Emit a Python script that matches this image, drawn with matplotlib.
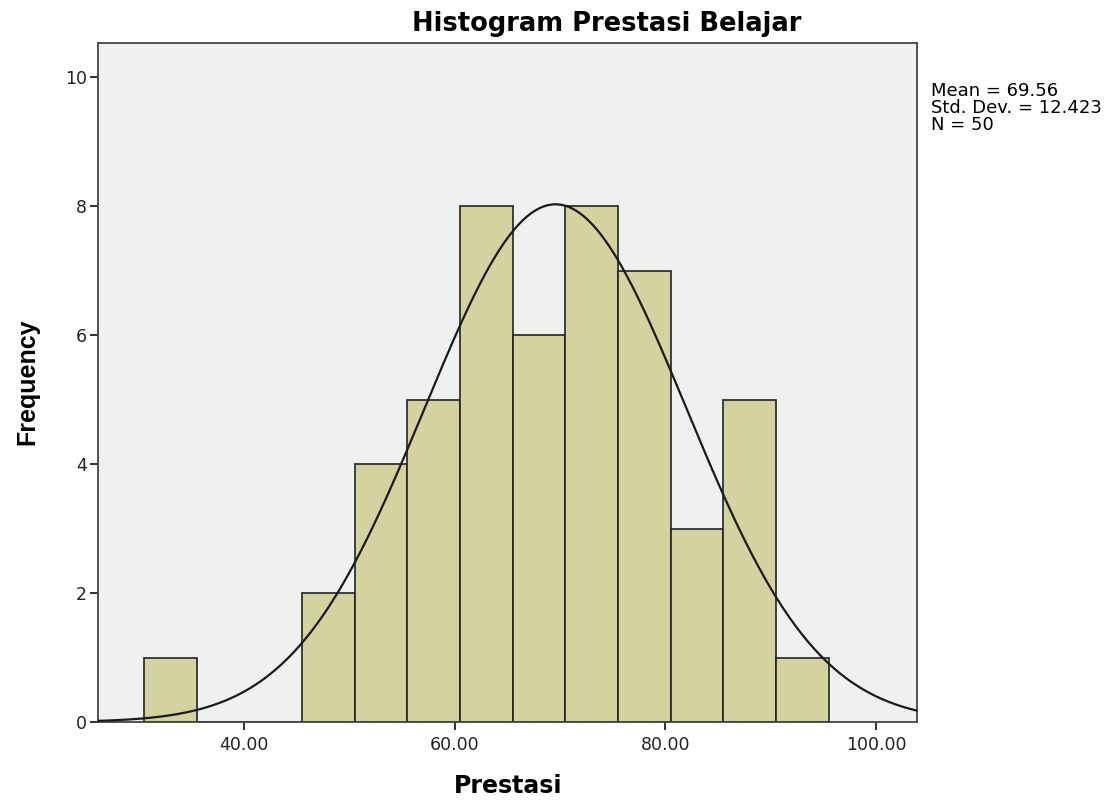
import numpy as np
import matplotlib
matplotlib.use("Agg")
import matplotlib.pyplot as plt

bin_edges = [30.5, 35.5, 40.5, 45.5, 50.5, 55.5, 60.5, 65.5, 70.5, 75.5, 80.5, 85.5, 90.5, 95.5]
frequencies = [1, 0, 0, 2, 4, 5, 8, 6, 8, 7, 3, 5, 1]
mean = 69.56
std = 12.423
n = 50
x_ticks = [40, 60, 80, 100]
x_tick_labels = ["40.00", "60.00", "80.00", "100.00"]
y_ticks = [0, 2, 4, 6, 8, 10]

plt.rcParams['font.family'] = ['DejaVu Sans']

fig = plt.figure(figsize=(11.18, 8), dpi=100)
ax = fig.add_axes([98/1118, 1-722/800, (917-98)/1118, (722-43)/800])
ax.set_facecolor('#f0f0f0')

edges = np.array(bin_edges)
widths = np.diff(edges)
ax.bar(edges[:-1], frequencies, width=widths, align='edge',
       color='#d4d29e', edgecolor='#222222', linewidth=1.2, zorder=2)

xs = np.linspace(26.1, 103.9, 400)
bw = widths[0]
pdf = n * bw / (std * np.sqrt(2*np.pi)) * np.exp(-0.5*((xs-mean)/std)**2)
ax.plot(xs, pdf, color='#1a1a1a', linewidth=1.6, zorder=3)

ax.set_xlim(26.1, 103.9)
ax.set_ylim(0, 10.53)
ax.set_xticks(x_ticks)
ax.set_xticklabels(x_tick_labels)
ax.set_yticks(y_ticks)
ax.tick_params(axis='both', labelsize=12.5, colors='#222222', length=6, width=1.3, direction='out')
ax.tick_params(axis='x', pad=4)
ax.tick_params(axis='y', pad=2)
for s in ax.spines.values():
    s.set_color('#444444')
    s.set_linewidth(1.3)

fig.text(508/1118, 1-793/800, 'Prestasi', fontsize=17, fontweight='bold',
         ha='center', va='baseline', family='DejaVu Sans')
fig.text(27/1118, 1-382/800, 'Frequency', fontsize=18, fontweight='bold', rotation=90,
         ha='center', va='center', family='Liberation Sans')

fig.text(607/1118, 1-31/800, 'Histogram Prestasi Belajar', fontsize=18.5, fontweight='bold',
         ha='center', va='baseline')
fig.text(931/1118, 1-82/800, 'Mean = 69.56\nStd. Dev. = 12.423\nN = 50', fontsize=13,
         ha='left', va='top', linespacing=0.93)

fig.savefig('out.png', dpi=100, facecolor='white')
